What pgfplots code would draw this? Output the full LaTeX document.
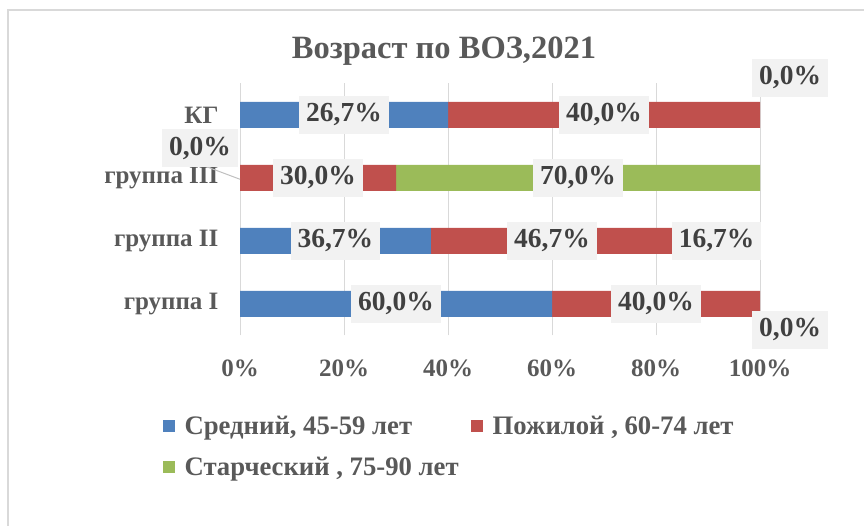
\documentclass[border=0pt]{standalone}
\usepackage{fontspec}
\setmainfont{Liberation Serif}
\usepackage{pgfplots}
\pgfplotsset{compat=1.18}
\usepackage{pgfplotstable}
\definecolor{cblue}{HTML}{4F81BD}
\definecolor{cred}{HTML}{C0504D}
\definecolor{cgreen}{HTML}{9BBB59}
\definecolor{txt}{HTML}{404040}
\definecolor{axtxt}{HTML}{595959}
\definecolor{gridc}{HTML}{D9D9D9}
\definecolor{lblbg}{HTML}{F2F2F2}
\definecolor{leader}{HTML}{BFBFBF}

% y: 0 = группа I, 1 = группа II, 2 = группа III, 3 = КГ
% x: share of the bar (100% stacked), lab: value shown, (cx,cy): label place
\pgfplotstableread{
y x lab cx cy
0 60.0 60.0 30.0 0
1 36.7 36.7 18.35 1
2 0.0 0.0 -7.7 2.476
3 40.0 26.7 20.0 3
}\tblue
\pgfplotstableread{
y x lab cx cy
0 40.0 40.0 80.0 0
1 46.6 46.7 60.0 1
2 30.0 30.0 15.0 2
3 60.0 40.0 70.0 3
}\tred
\pgfplotstableread{
y x lab cx cy
0 0.0 0.0 105.8 -0.41
1 16.7 16.7 91.65 1
2 70.0 70.0 65.0 2
3 0.0 0.0 105.8 3.59
}\tgreen

\newcommand{\tickfont}{\fontsize{25}{30}\selectfont\bfseries}
\newcommand{\lblfont}{\fontsize{27.5}{32}\selectfont\bfseries}
\newcommand{\legfont}{\fontsize{26.7}{32}\selectfont\bfseries}

\pgfplotsset{frame/.style={
  at={(240pt,190.5pt)}, anchor=south west,
  scale only axis, width=520pt, height=252pt,
  xmin=0, xmax=100, ymin=-0.5, ymax=3.5, clip=false}}

\begin{document}
\begin{tikzpicture}
\useasboundingbox (0,0) rectangle (864pt,526pt);
\draw[gridc, line width=2pt] (8pt,0) -- (8pt,516pt) -- (864pt,516pt);
\node[font=\fontsize{32.5}{38}\selectfont\bfseries, text=axtxt] at (444pt,475pt) {Возраст по ВОЗ,2021};
\begin{axis}[
  frame,
  xbar stacked, bar width=26pt,
  xtick={0,20,...,100},
  xticklabel={\pgfmathprintnumber[assume math mode=true]{\tick}\%},
  ytick={0,1,2,3},
  yticklabels={группа I\hspace{5pt},группа II,группа III,КГ\hspace{12pt}},
  xmajorgrids, major grid style={gridc, line width=1pt},
  axis line style={draw=none}, major tick style={draw=none},
  ticklabel style={font=\tickfont, text=axtxt},
  xticklabel style={yshift=-21pt},
  yticklabel style={xshift=-18pt},
  legend columns=2,
  legend cell align=left,
  legend style={draw=none, fill=none, font=\legfont, text=axtxt,
     at={(axis description cs:-0.155,-0.303)}, anchor=north west,
     /tikz/every even column/.append style={column sep=10pt},
     row sep=17pt},
  legend image code/.code={\fill[#1] (0pt,-6pt) rectangle (12pt,6pt);},
]
\addplot[fill=cblue, draw=none] table[x=x, y=y] {\tblue};
\addlegendentry{\hspace*{8pt}Средний, 45-59 лет}
\addplot[fill=cred, draw=none] table[x=x, y=y] {\tred};
\addlegendentry{\hspace*{8pt}Пожилой , 60-74 лет}
\addplot[fill=cgreen, draw=none] table[x=x, y=y] {\tgreen};
\addlegendentry{\hspace*{8pt}Старческий , 75-90 лет}
\end{axis}
\begin{axis}[
  frame, hide axis,
  point meta=explicit,
  nodes near coords={\pgfmathprintnumber[fixed,fixed zerofill,precision=1,use comma,assume math mode=true]{\pgfplotspointmeta}\%},
  every node near coord/.style={anchor=center, fill=lblbg, text=txt, font=\lblfont,
     inner xsep=7pt, inner ysep=7pt, text height=19pt, text depth=5pt},
]
\draw[leader, line width=1pt] (axis cs:-6.8,2.19) -- (axis cs:0,1.98);
\addplot[draw=none, mark=none] table[x=cx, y=cy, meta=lab] {\tblue};
\addplot[draw=none, mark=none] table[x=cx, y=cy, meta=lab] {\tred};
\addplot[draw=none, mark=none] table[x=cx, y=cy, meta=lab] {\tgreen};
\end{axis}
\end{tikzpicture}
\end{document}
